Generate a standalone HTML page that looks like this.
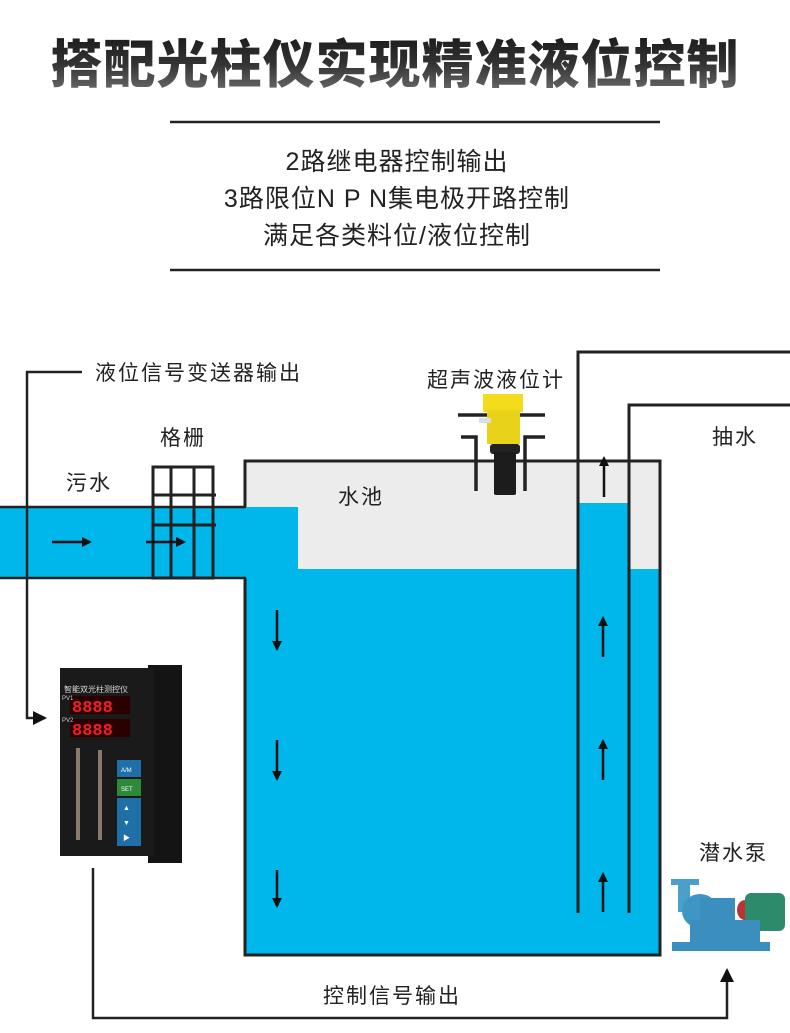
<!DOCTYPE html>
<html><head><meta charset="utf-8"><style>
html,body{margin:0;padding:0;background:#fff;}
svg{display:block;}
text{font-family:"Liberation Sans","Noto Sans CJK SC",sans-serif;fill:#222;}
</style></head><body>
<svg width="790" height="1033" viewBox="0 0 790 1033" xmlns="http://www.w3.org/2000/svg">
<defs>
<linearGradient id="tg" x1="0" y1="0" x2="0" y2="1">
<stop offset="0" stop-color="#111"/><stop offset="0.55" stop-color="#333"/><stop offset="1" stop-color="#777"/></linearGradient>
<marker id="ah" markerWidth="10" markerHeight="10" refX="8" refY="5" orient="auto" markerUnits="userSpaceOnUse"><path d="M0,0 L10,5 L0,10 z" fill="#111"/></marker>
<marker id="ahb" markerWidth="14" markerHeight="14" refX="12" refY="7" orient="auto" markerUnits="userSpaceOnUse"><path d="M0,0 L14,7 L0,14 z" fill="#111"/></marker>
</defs>
<!-- title -->
<text x="395" y="83" text-anchor="middle" font-size="52" font-weight="900" style="font-family:'Noto Sans CJK SC',sans-serif;fill:url(#tg)" letter-spacing="1">搭配光柱仪实现精准液位控制</text>
<line x1="170" y1="122" x2="660" y2="122" stroke="#222" stroke-width="2.5"/>
<line x1="170" y1="270" x2="660" y2="270" stroke="#222" stroke-width="2.5"/>
<text x="397" y="170" text-anchor="middle" font-size="25" letter-spacing="1">2路继电器控制输出</text>
<text x="397" y="207" text-anchor="middle" font-size="25" letter-spacing="1">3路限位N P N集电极开路控制</text>
<text x="397" y="244" text-anchor="middle" font-size="25" letter-spacing="1">满足各类料位/液位控制</text>

<!-- pool -->
<rect x="245" y="461" width="415" height="494" fill="#ececec"/>
<rect x="245" y="569" width="415" height="386" fill="#00b7eb"/>
<rect x="245" y="507" width="53" height="62" fill="#00b7eb"/>
<rect x="0" y="507" width="245" height="71" fill="#00b7eb"/>
<rect x="578" y="503" width="51" height="452" fill="#00b7eb"/>
<path d="M245,507 V461 H660 V955 H245 V578" fill="none" stroke="#222" stroke-width="3"/>
<line x1="0" y1="507" x2="246" y2="507" stroke="#222" stroke-width="2.5"/>
<line x1="0" y1="578" x2="246" y2="578" stroke="#222" stroke-width="2.5"/>
<!-- grating -->
<g stroke="#222" stroke-width="3" fill="none">
<rect x="153" y="467" width="60" height="111"/>
<line x1="171" y1="467" x2="171" y2="578"/>
<line x1="194" y1="467" x2="194" y2="578"/>
<line x1="153" y1="495" x2="216" y2="495"/>
<line x1="153" y1="525" x2="216" y2="525"/>
</g>
<!-- flow arrows -->
<g stroke="#111" stroke-width="2.5">
<line x1="52" y1="542" x2="90" y2="542" marker-end="url(#ah)"/>
<line x1="146" y1="542" x2="184" y2="542" marker-end="url(#ah)"/>
<line x1="277" y1="610" x2="277" y2="649" marker-end="url(#ah)"/>
<line x1="277" y1="740" x2="277" y2="779" marker-end="url(#ah)"/>
<line x1="277" y1="870" x2="277" y2="906" marker-end="url(#ah)"/>
<line x1="603" y1="657" x2="603" y2="618" marker-end="url(#ah)"/>
<line x1="603" y1="780" x2="603" y2="741" marker-end="url(#ah)"/>
<line x1="603" y1="912" x2="603" y2="874" marker-end="url(#ah)"/>
<line x1="604" y1="497" x2="604" y2="458" marker-end="url(#ah)"/>
</g>
<!-- riser pipe -->
<path d="M578,913 V352 H790" fill="none" stroke="#222" stroke-width="3"/>
<path d="M629,913 V405 H790" fill="none" stroke="#222" stroke-width="3"/>
<!-- sensor -->
<g stroke="#222" stroke-width="3.5" fill="none">
<line x1="458" y1="415" x2="545" y2="415"/>
<path d="M461,437 H476 V491"/>
<path d="M545,437 H525 V491"/>
</g>
<rect x="483" y="394" width="40" height="18" fill="#f2dc1c"/>
<rect x="487" y="410" width="33" height="34" fill="#e9d31a"/>
<rect x="479" y="418" width="12" height="5" fill="#ddd"/>
<rect x="490" y="444" width="30" height="10" rx="3" fill="#222"/>
<rect x="494" y="452" width="22" height="43" rx="2" fill="#1c1c1c"/>
<!-- signal line -->
<path d="M82,372 H27 V718 H45" fill="none" stroke="#222" stroke-width="2.5" marker-end="url(#ahb)"/>
<path d="M93,868 V1018 H727 V970" fill="none" stroke="#222" stroke-width="2.5" marker-end="url(#ahb)"/>
<!-- labels -->
<g font-size="21" letter-spacing="2">
<text x="95" y="380">液位信号变送器输出</text>
<text x="427" y="387">超声波液位计</text>
<text x="160" y="445">格栅</text>
<text x="66" y="490">污水</text>
<text x="338" y="504">水池</text>
<text x="712" y="444">抽水</text>
<text x="699" y="860">潜水泵</text>
<text x="323" y="1003">控制信号输出</text>
</g>
<!-- device -->
<rect x="148" y="665" width="34" height="198" fill="#141414"/>
<rect x="60" y="668" width="94" height="188" fill="#1a1a1a"/>
<text x="64" y="692" font-size="8" style="fill:#ddd">智能双光柱测控仪</text>
<rect x="70" y="696" width="60" height="18" fill="#2a0000"/>
<text x="72" y="712" font-size="17" font-weight="bold" style="fill:#e22;font-family:'Liberation Mono',monospace">8888</text>
<rect x="70" y="719" width="60" height="18" fill="#2a0000"/>
<text x="72" y="735" font-size="17" font-weight="bold" style="fill:#e22;font-family:'Liberation Mono',monospace">8888</text>
<text x="62" y="700" font-size="6" style="fill:#ccc">PV1</text>
<text x="62" y="722" font-size="6" style="fill:#ccc">PV2</text>
<rect x="76" y="748" width="4" height="92" fill="#8a7a6a"/>
<rect x="98" y="750" width="4" height="90" fill="#8a7a6a"/>
<rect x="117" y="760" width="24" height="17" fill="#1f6fa8"/>
<rect x="117" y="779" width="24" height="17" fill="#2d8a3a"/>
<rect x="117" y="798" width="24" height="48" fill="#1f6fa8"/>
<text x="121" y="772" font-size="6" style="fill:#fff">A/M</text>
<text x="121" y="791" font-size="6" style="fill:#fff">SET</text>
<text x="123" y="810" font-size="7" style="fill:#fff">▲</text>
<text x="123" y="825" font-size="7" style="fill:#fff">▼</text>
<text x="123" y="840" font-size="7" style="fill:#fff">▶</text>
<!-- pump -->
<rect x="672" y="942" width="98" height="9" fill="#3a8fbf"/>
<rect x="678" y="882" width="12" height="30" fill="#4aa0c8"/>
<ellipse cx="700" cy="911" rx="18" ry="17" fill="#3e96c4"/>
<rect x="700" y="898" width="35" height="24" fill="#3a8fbf"/>
<ellipse cx="745" cy="910" rx="8" ry="10" fill="#b33"/>
<rect x="745" y="893" width="40" height="38" rx="6" fill="#2d8a6a"/>
<rect x="690" y="920" width="70" height="22" fill="#3a8fbf"/>
<rect x="671" y="879" width="28" height="6" fill="#4aa0c8"/>
</svg>
</body></html>
